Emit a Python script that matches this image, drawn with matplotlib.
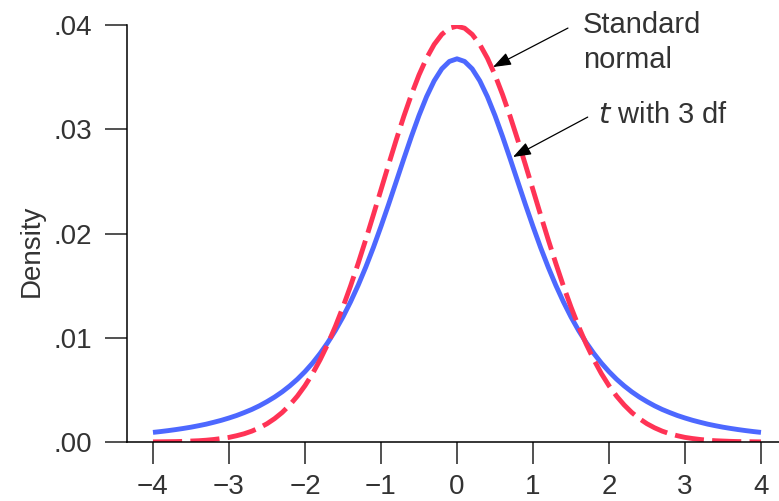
import numpy as np
import matplotlib
matplotlib.use('Agg')
import matplotlib.pyplot as plt

plt.rcParams['font.family'] = ['Liberation Sans', 'DejaVu Sans']

# values (density axis is in units of .01), x = 0 .. 4 step 0.1
x_half = np.round(np.arange(0, 4.01, 0.1), 1)
t3_half = [.03676, .03651, .03580, .03465, .03313, .03132, .02930, .02716, .02497, .02279,
           .02068, .01866, .01678, .01504, .01345, .01200, .01070, .00954, .00850, .00757,
           .00675, .00602, .00538, .00481, .00431, .00387, .00347, .00312, .00282, .00254,
           .00230, .00208, .00189, .00171, .00156, .00142, .00130, .00119, .00109, .00100,
           .00092]
norm_half = [.03989, .03970, .03910, .03814, .03683, .03521, .03332, .03123, .02897, .02661,
             .02420, .02179, .01942, .01714, .01497, .01295, .01109, .00940, .00790, .00656,
             .00540, .00440, .00355, .00283, .00224, .00175, .00136, .00104, .00079, .00060,
             .00044, .00033, .00024, .00017, .00012, .00009, .00006, .00004, .00003, .00002,
             .00001]
x_pt = np.concatenate([-x_half[:0:-1], x_half])
t3_pt = np.array(t3_half[:0:-1] + t3_half)
norm_pt = np.array(norm_half[:0:-1] + norm_half)

x_ticks = [-4, -3, -2, -1, 0, 1, 2, 3, 4]
y_ticks = [0.0, 0.01, 0.02, 0.03, 0.04]
y_labels = ['.00', '.01', '.02', '.03', '.04']

fig = plt.figure(figsize=(7.79, 5.01), dpi=100)
ax = fig.add_axes([0.163, 0.1178, 0.837, 0.8322])

ax.plot(x_pt, t3_pt, '-', color='#4d68ff', lw=3.5, solid_capstyle='butt')
ax.plot(x_pt, norm_pt, '--', color='#ff3355', lw=3.5, dashes=(6, 1.7))

ax.set_xlim(-4.342, 4.237)
ax.set_ylim(0, 0.04)
ax.set_xticks(x_ticks)
ax.set_yticks(y_ticks)
ax.set_yticklabels(y_labels)
ax.tick_params(direction='out', length=16, width=1.1, labelsize=20, colors='#222222')
ax.tick_params(axis='x', pad=7)
ax.tick_params(axis='y', pad=9)
for lbl in ax.get_xticklabels() + ax.get_yticklabels():
    lbl.set_color('#333333')

for s in ['top', 'right']:
    ax.spines[s].set_visible(False)
for s in ['left', 'bottom']:
    ax.spines[s].set_linewidth(1.1)

fig.text(0.041, 0.5, 'Density', rotation=90, fontsize=20, color='#333333',
         ha='center', va='center')

arrow = dict(arrowstyle='-|>,head_length=1.1,head_width=0.4', color='black', lw=0.9,
             shrinkA=0, shrinkB=0)
ax.text(1.66, 0.0383, 'Standard\nnormal', fontsize=21, color='#333333',
        ha='left', va='center', linespacing=1.3)
ax.annotate('', xy=(0.474, 0.03597), xytext=(1.46, 0.03971), arrowprops=arrow)
ax.text(1.86, 0.0314, '$\\it{t}$ with 3 df', fontsize=21, color='#333333',
        ha='left', va='center')
ax.annotate('', xy=(0.737, 0.02734), xytext=(1.72, 0.03117), arrowprops=arrow)

fig.savefig('out.png', dpi=100)
